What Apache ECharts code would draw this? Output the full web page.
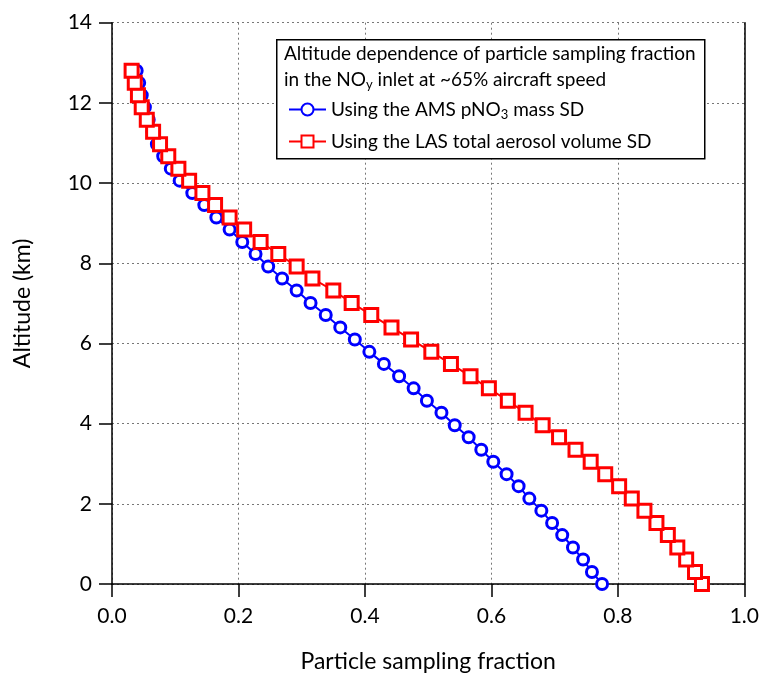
<!DOCTYPE html>
<html><head><meta charset="utf-8">
<script src="https://cdn.jsdelivr.net/npm/echarts@6/dist/echarts.min.js"></script>
<style>html,body{margin:0;padding:0;background:#fff}#c{width:762px;height:681px}</style>
</head><body><div id="c"></div>
<script>
// Altitude (km), 1000-ft steps
const altitude = [0, 0.30, 0.61, 0.91, 1.22, 1.52, 1.83, 2.13, 2.44, 2.74, 3.05, 3.35, 3.66, 3.96, 4.27, 4.57, 4.88, 5.18, 5.49, 5.79, 6.10, 6.40, 6.71, 7.01, 7.32, 7.62, 7.92, 8.23, 8.53, 8.84, 9.14, 9.45, 9.75, 10.06, 10.36, 10.67, 10.97, 11.28, 11.58, 11.89, 12.19, 12.50, 12.80];
// Sampling fraction, AMS pNO3 mass SD
const amsFraction = [0.775, 0.759, 0.745, 0.729, 0.712, 0.696, 0.679, 0.660, 0.643, 0.624, 0.603, 0.584, 0.564, 0.542, 0.521, 0.498, 0.477, 0.454, 0.430, 0.407, 0.384, 0.361, 0.338, 0.314, 0.292, 0.269, 0.247, 0.227, 0.206, 0.186, 0.165, 0.146, 0.127, 0.107, 0.093, 0.081, 0.071, 0.064, 0.058, 0.052, 0.047, 0.043, 0.039];
// Sampling fraction, LAS total aerosol volume SD
const lasFraction = [0.933, 0.922, 0.908, 0.894, 0.879, 0.861, 0.842, 0.822, 0.802, 0.780, 0.757, 0.733, 0.707, 0.681, 0.654, 0.626, 0.596, 0.567, 0.536, 0.505, 0.473, 0.442, 0.410, 0.379, 0.350, 0.317, 0.292, 0.263, 0.235, 0.209, 0.186, 0.163, 0.143, 0.122, 0.105, 0.089, 0.076, 0.065, 0.055, 0.047, 0.041, 0.036, 0.031];
const xTicks = [0, 0.2, 0.4, 0.6, 0.8, 1.0];
const yTicks = [0, 2, 4, 6, 8, 10, 12, 14];
const seriesNames = ['Using the AMS pNO{sub|3} mass SD', 'Using the LAS total aerosol volume SD'];
const legendTitle = ['Altitude dependence of particle sampling fraction', 'in the NO{sub|y} inlet at ~65% aircraft speed'];
const xLabel = 'Particle sampling fraction';
const yLabel = 'Altitude (km)';

const FONT = 'Lato';
const chart = echarts.init(document.getElementById('c'));
const pairs = (xs) => xs.map((v, i) => [v, altitude[i]]);
const rich = {
  sub: {fontSize: 13, verticalAlign: 'bottom', padding: [10, 0, 0, 0], fontFamily: FONT, color: '#000'}
};
const gridLine = {show: true, lineStyle: {color: '#777', type: [2, 3], width: 1}};
chart.setOption({
  animation: false,
  textStyle: {fontFamily: FONT, color: '#000'},
  grid: {left: 112, right: 17, top: 22.7, bottom: 97, containLabel: false},
  xAxis: {
    type: 'value', min: xTicks[0], max: xTicks[xTicks.length - 1], interval: 0.2,
    name: xLabel, nameLocation: 'middle', nameGap: 66,
    nameTextStyle: {fontSize: 23, fontFamily: FONT, color: '#000'},
    axisLine: {show: true, onZero: false, lineStyle: {color: '#000', width: 1.5}},
    axisTick: {show: true, inside: false, length: 13, lineStyle: {color: '#000', width: 1.5}},
    axisLabel: {fontSize: 21, margin: 22, color: '#000', fontFamily: FONT, formatter: v => v.toFixed(1)},
    splitLine: gridLine
  },
  yAxis: [{
    type: 'value', min: yTicks[0], max: yTicks[yTicks.length - 1], interval: 2,
    name: yLabel, nameLocation: 'middle', nameGap: 78, nameRotate: 90,
    nameTextStyle: {fontSize: 23, fontFamily: FONT, color: '#000'},
    axisLine: {show: true, onZero: false, lineStyle: {color: '#000', width: 1.5}},
    axisTick: {show: true, inside: false, length: 13, lineStyle: {color: '#000', width: 1.5}},
    axisLabel: {fontSize: 21, margin: 20, color: '#000', fontFamily: FONT},
    splitLine: gridLine
  }, {
    type: 'value', min: yTicks[0], max: yTicks[yTicks.length - 1], interval: 2, position: 'right',
    axisLine: {show: true, onZero: false, lineStyle: {color: '#000', width: 1.5}},
    axisTick: {show: false}, axisLabel: {show: false}, splitLine: {show: false}
  }],
  legend: {
    left: 283, top: 95, orient: 'vertical', itemGap: 11, itemWidth: 37, itemHeight: 15, z: 20,
    data: seriesNames,
    textStyle: {fontSize: 19, fontFamily: FONT, color: '#000', rich: rich}
  },
  graphic: [
    {type: 'rect', left: 276, top: 39, shape: {width: 428, height: 119},
     style: {fill: '#fff', stroke: '#000', lineWidth: 1.5}, z: 10},
    {type: 'text', left: 284, top: 44, z: 11,
     style: {text: legendTitle[0], fontSize: 19, fontFamily: FONT, fill: '#000'}},
    {type: 'text', left: 284, top: 70, z: 11,
     style: {text: legendTitle[1], fontSize: 19, fontFamily: FONT, fill: '#000', rich: rich}}
  ],
  series: [{
    name: seriesNames[0], type: 'line', data: pairs(amsFraction),
    symbol: 'circle', symbolSize: 11, showAllSymbol: true,
    lineStyle: {color: '#0000ff', width: 2},
    itemStyle: {color: '#fff', borderColor: '#0000ff', borderWidth: 3},
    z: 3
  }, {
    name: seriesNames[1], type: 'line', data: pairs(lasFraction),
    symbol: 'rect', symbolSize: 13, showAllSymbol: true,
    lineStyle: {color: '#ff0000', width: 2},
    itemStyle: {color: '#fff', borderColor: '#ff0000', borderWidth: 3},
    z: 4
  }]
});
</script></body></html>
